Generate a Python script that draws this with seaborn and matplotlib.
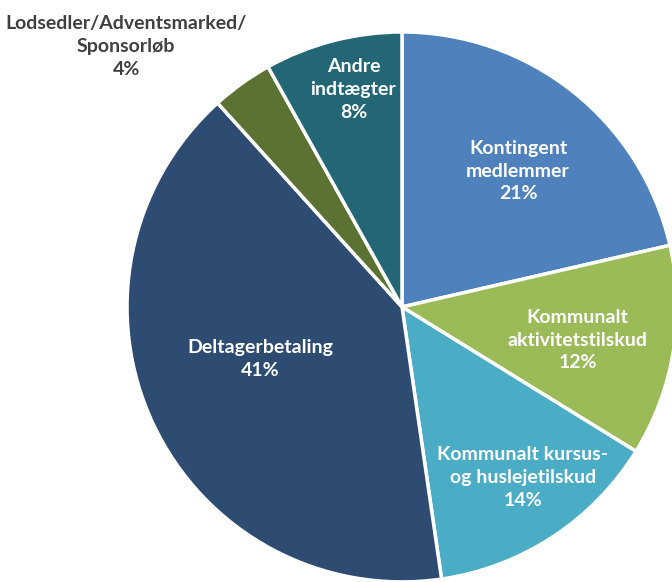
"""Income distribution pie chart."""

import matplotlib.pyplot as plt
import numpy as np
import seaborn as sns

# data (clockwise from top)
categories = [
    "Kontingent\nmedlemmer",
    "Kommunalt\naktivitetstilskud",
    "Kommunalt kursus-\nog huslejetilskud",
    "Deltagerbetaling",
    "Lodsedler/Adventsmarked/\nSponsorløb",
    "Andre\nindtægter",
]
shares = [21.4, 12.4, 13.9, 40.6, 3.6, 8.1]
pct_labels = ["21%", "12%", "14%", "41%", "4%", "8%"]

colors = ["#4F81BD", "#9BBB59", "#4BACC6", "#2E4B72", "#5C7232", "#236777"]
label_radius = [0.65, 0.65, 0.76, 0.55, 1.38, 0.81]
label_angle_shift = [-2, -1.3, 2, -5, 11, -2]
label_colors = ["white", "white", "white", "white", "#404040", "white"]

sns.set_theme(style="white")
plt.rcParams["font.family"] = ["Lato", "DejaVu Sans"]

fig = plt.figure(figsize=(6.72, 5.82), dpi=100)
ax = fig.add_axes([0, 0, 1, 1])

wedges, _ = ax.pie(
    shares,
    colors=colors,
    startangle=90,
    counterclock=False,
    radius=1.0,
    wedgeprops=dict(edgecolor="white", linewidth=2.5),
)

for w, cat, pct, r, shift, tc in zip(wedges, categories, pct_labels,
                                     label_radius, label_angle_shift, label_colors):
    mid = np.deg2rad((w.theta1 + w.theta2) / 2 + shift)
    ax.text(r * np.cos(mid), r * np.sin(mid), f"{cat}\n{pct}",
            ha="center", va="center", color=tc, fontsize=14,
            fontweight="bold", linespacing=1.4)

# pie is cropped at right and bottom in the original
ax.set_xlim(-1.462, 0.982)
ax.set_ylim(-1.0, 1.116)
ax.set_aspect("equal")
ax.axis("off")

plt.savefig("out.png", dpi=100)
plt.close()
